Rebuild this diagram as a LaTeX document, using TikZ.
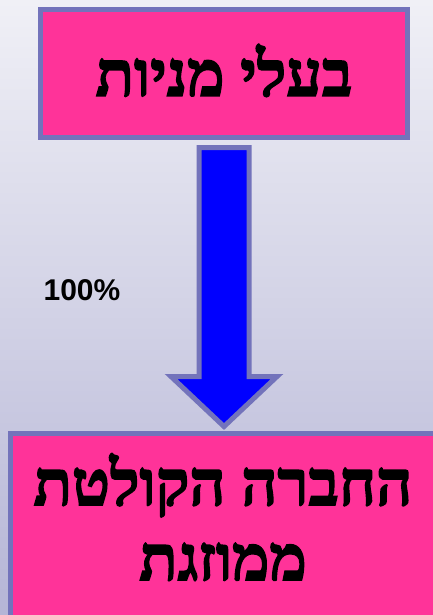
\documentclass[tikz,border=0pt]{standalone}
\usepackage{fontspec}
\setmainfont{Liberation Sans}
\newfontfamily\hebfont[Script=Hebrew,BoldFeatures={FakeBold=2.5}]{Liberation Serif}
\TeXXeTstate=1
\usetikzlibrary{calc}

\definecolor{boxpink}{HTML}{FF3399}
\definecolor{boxrim}{HTML}{7373BB}
\definecolor{arrowblue}{HTML}{0000FF}
\definecolor{bgtop}{HTML}{F0F0F6}
\definecolor{bgbottom}{HTML}{B5B5D6}

\begin{document}
\begin{tikzpicture}[
  x={(1pt,0pt)},
  y={(0pt,-1pt)},
  line join=miter,
  box/.style={draw=boxrim,fill=boxpink,line width=5pt,inner sep=0pt,
    align=center,font=\hebfont\bfseries\fontsize{63}{75}\selectfont},
  bigarrow/.style={draw=boxrim,fill=arrowblue,line width=5pt},
  pct/.style={font=\bfseries\fontsize{30}{36}\selectfont}
]
  % Page frame and background.
  \useasboundingbox (0,0) rectangle (433,615);
  \clip (0,0) rectangle (433,615);
  \fill[top color=bgtop,bottom color=bgbottom] (0,0) rectangle (433,615);

  % Boxes.
  \node[box,minimum width=367pt,minimum height=128pt] (owners) at (224,73.5)
    {\raisebox{7pt}{\beginR בעלי מניות\endR}};
  \node[box,anchor=north,minimum width=425pt,minimum height=184.5pt,text depth=17pt] (merged) at (223,430.5)
    {\beginR החברה הקולטת\endR\\\beginR ממוזגת\endR};

  % Block arrow from the owners to the merged company.
  \coordinate (tip) at ($(owners.south |- merged.north)+(0,-4)$);
  \draw[bigarrow] ($(owners.south)+(-25,7.5)$) -- ($(owners.south)+(25,7.5)$)
    -- ($(tip)+(25,-50)$) -- ($(tip)+(53,-50)$) -- (tip)
    -- ($(tip)+(-53,-50)$) -- ($(tip)+(-25,-50)$) -- cycle;

  \node[pct] (share) at (82,290) {100\%};
\end{tikzpicture}
\end{document}
